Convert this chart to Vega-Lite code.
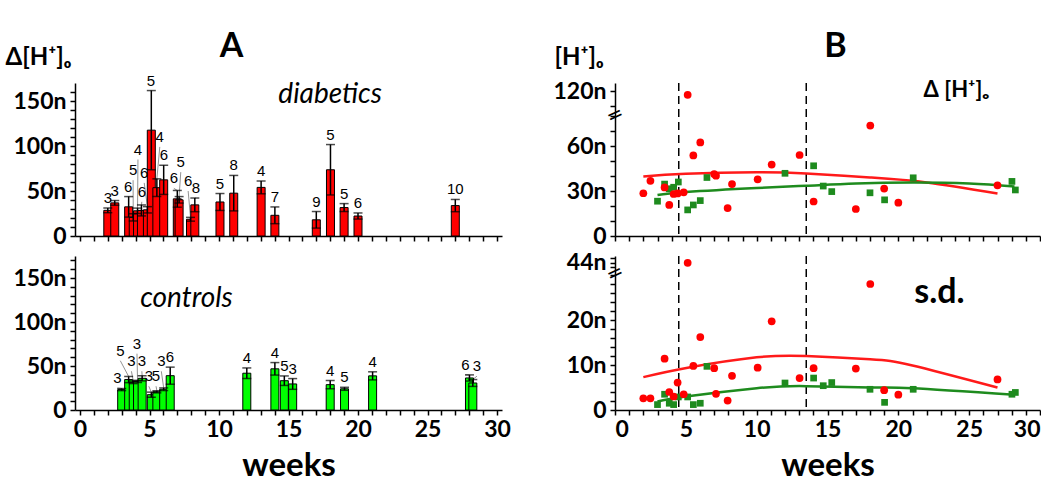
{
 "$schema": "https://vega.github.io/schema/vega-lite/v6.json",
 "background": "white",
 "padding": {"left": 5, "top": 30, "right": 0, "bottom": 0},
 "config": {
  "view": {"stroke": null},
  "font": "Lato",
  "axis": {"grid": false, "domainColor": "black", "domainWidth": 1.5, "tickColor": "black", "tickWidth": 1.5, "tickSize": 5, "labelOverlap": false, "labelFont": "Lato", "labelFontWeight": "bold", "labelFontSize": 23, "labelColor": "black", "titleColor": "black", "titleFont": "Lato"},
  "title": {"font": "Lato", "fontSize": 34, "fontWeight": "bold", "color": "black"}
 },
 "datasets": {
  "weeks": [
   {"group":"diabetics","week":2.0,"mean":28.5,"sd":2.6,"lo":25.9,"hi":31.1,"n":3,"lx":2.0,"ly":31.1},
   {"group":"diabetics","week":2.5,"mean":36.8,"sd":2.6,"lo":34.2,"hi":39.4,"n":3,"lx":2.5,"ly":39.4},
   {"group":"diabetics","week":3.5,"mean":32.4,"sd":11.4,"lo":21.0,"hi":43.8,"n":6,"lx":3.47,"ly":43.8},
   {"group":"diabetics","week":3.83,"mean":20.7,"sd":4.0,"lo":16.7,"hi":24.7,"n":5,"lx":3.82,"ly":62},
   {"group":"diabetics","week":4.14,"mean":28.0,"sd":3.0,"lo":25.0,"hi":31.0,"n":4,"lx":4.17,"ly":85},
   {"group":"diabetics","week":4.42,"mean":28.4,"sd":6.1,"lo":22.3,"hi":34.5,"n":6,"lx":4.45,"ly":38},
   {"group":"diabetics","week":4.85,"mean":29.1,"sd":3.5,"lo":25.6,"hi":32.6,"n":6,"lx":4.62,"ly":59},
   {"group":"diabetics","week":5.13,"mean":117.6,"sd":44,"lo":73.6,"hi":161.6,"n":5,"lx":5.1,"ly":161.6},
   {"group":"diabetics","week":5.53,"mean":53.7,"sd":9.8,"lo":43.9,"hi":63.5,"n":4,"lx":5.74,"ly":99},
   {"group":"diabetics","week":6.02,"mean":62.4,"sd":16.2,"lo":46.2,"hi":78.6,"n":6,"lx":6.04,"ly":78.6},
   {"group":"diabetics","week":7.0,"mean":41.3,"sd":9.3,"lo":32.0,"hi":50.6,"n":6,"lx":6.75,"ly":53},
   {"group":"diabetics","week":7.13,"mean":40.2,"sd":3.6,"lo":36.6,"hi":43.8,"n":5,"lx":7.25,"ly":71},
   {"group":"diabetics","week":7.95,"mean":18.6,"sd":2.1,"lo":16.5,"hi":20.7,"n":6,"lx":7.78,"ly":50},
   {"group":"diabetics","week":8.26,"mean":34.6,"sd":7.6,"lo":27.0,"hi":42.2,"n":8,"lx":8.34,"ly":42.2},
   {"group":"diabetics","week":10.07,"mean":37.8,"sd":9.4,"lo":28.4,"hi":47.2,"n":5,"lx":10.07,"ly":47.2},
   {"group":"diabetics","week":11.06,"mean":47.6,"sd":19.7,"lo":27.9,"hi":67.3,"n":8,"lx":11.06,"ly":67.3},
   {"group":"diabetics","week":13.03,"mean":54.0,"sd":7.1,"lo":46.9,"hi":61.1,"n":4,"lx":13.03,"ly":61.1},
   {"group":"diabetics","week":14.02,"mean":23.0,"sd":9.3,"lo":13.7,"hi":32.3,"n":7,"lx":14.02,"ly":32.3},
   {"group":"diabetics","week":17.0,"mean":18.0,"sd":9.2,"lo":8.8,"hi":27.2,"n":9,"lx":17.0,"ly":27.2},
   {"group":"diabetics","week":18.02,"mean":73.6,"sd":28,"lo":45.6,"hi":101.6,"n":5,"lx":18.02,"ly":101.6},
   {"group":"diabetics","week":19.0,"mean":31.6,"sd":4.4,"lo":27.2,"hi":36.0,"n":5,"lx":19.0,"ly":36.0},
   {"group":"diabetics","week":20.0,"mean":22.2,"sd":3.4,"lo":18.8,"hi":25.6,"n":6,"lx":20.0,"ly":25.6},
   {"group":"diabetics","week":27.0,"mean":33.8,"sd":6.8,"lo":27.0,"hi":40.6,"n":10,"lx":27.0,"ly":40.6},
   {"group":"controls","week":3.0,"mean":23.2,"sd":1.2,"lo":22.0,"hi":24.4,"n":3,"lx":2.7,"ly":25},
   {"group":"controls","week":3.5,"mean":34.6,"sd":3.5,"lo":31.1,"hi":38.1,"n":5,"lx":2.9,"ly":56},
   {"group":"controls","week":3.83,"mean":31.5,"sd":1.5,"lo":30.0,"hi":33.0,"n":3,"lx":3.7,"ly":44},
   {"group":"controls","week":4.14,"mean":32.5,"sd":1.2,"lo":31.3,"hi":33.7,"n":3,"lx":4.1,"ly":64},
   {"group":"controls","week":4.47,"mean":36.0,"sd":2.9,"lo":33.1,"hi":38.9,"n":3,"lx":4.45,"ly":44},
   {"group":"controls","week":5.13,"mean":17.4,"sd":2.9,"lo":14.5,"hi":20.3,"n":3,"lx":4.95,"ly":27},
   {"group":"controls","week":5.53,"mean":20.7,"sd":1.2,"lo":19.5,"hi":21.9,"n":5,"lx":5.47,"ly":27},
   {"group":"controls","week":6.02,"mean":23.6,"sd":1.5,"lo":22.1,"hi":25.1,"n":3,"lx":5.85,"ly":44},
   {"group":"controls","week":6.49,"mean":39.0,"sd":9.7,"lo":29.3,"hi":48.7,"n":6,"lx":6.47,"ly":48.7},
   {"group":"controls","week":12.0,"mean":41.8,"sd":6.0,"lo":35.8,"hi":47.8,"n":4,"lx":12.0,"ly":47.8},
   {"group":"controls","week":14.02,"mean":46.8,"sd":7.1,"lo":39.7,"hi":53.9,"n":4,"lx":14.02,"ly":53.9},
   {"group":"controls","week":14.7,"mean":33.3,"sd":5.4,"lo":27.9,"hi":38.7,"n":5,"lx":14.7,"ly":38.7},
   {"group":"controls","week":15.3,"mean":29.6,"sd":6.1,"lo":23.5,"hi":35.7,"n":3,"lx":15.3,"ly":35.7},
   {"group":"controls","week":18.0,"mean":28.8,"sd":4.6,"lo":24.2,"hi":33.4,"n":4,"lx":18.0,"ly":33.4},
   {"group":"controls","week":19.03,"mean":24.1,"sd":1.7,"lo":22.4,"hi":25.8,"n":5,"lx":19.03,"ly":25.8},
   {"group":"controls","week":21.05,"mean":38.8,"sd":4.6,"lo":34.2,"hi":43.4,"n":4,"lx":21.05,"ly":43.4},
   {"group":"controls","week":28.02,"mean":36.4,"sd":3.5,"lo":32.9,"hi":39.9,"n":6,"lx":27.72,"ly":39.9},
   {"group":"controls","week":28.26,"mean":30.7,"sd":3.9,"lo":26.8,"hi":34.6,"n":3,"lx":28.56,"ly":38.5}
  ],
  "fit": [
   {"stat":"mean","group":"diabetics","week":2,"value":39.7},
   {"stat":"mean","group":"diabetics","week":5,"value":41.5},
   {"stat":"mean","group":"diabetics","week":10,"value":42.5},
   {"stat":"mean","group":"diabetics","week":13.5,"value":41.7},
   {"stat":"mean","group":"diabetics","week":18,"value":39},
   {"stat":"mean","group":"diabetics","week":22,"value":35.7},
   {"stat":"mean","group":"diabetics","week":27,"value":28.4},
   {"stat":"mean","group":"controls","week":3,"value":27.3},
   {"stat":"mean","group":"controls","week":5,"value":29.3},
   {"stat":"mean","group":"controls","week":10,"value":32},
   {"stat":"mean","group":"controls","week":13.5,"value":33.5},
   {"stat":"mean","group":"controls","week":17,"value":35},
   {"stat":"mean","group":"controls","week":21,"value":35.7},
   {"stat":"mean","group":"controls","week":25,"value":35},
   {"stat":"mean","group":"controls","week":28.2,"value":33},
   {"stat":"sd","group":"diabetics","week":2,"value":7.3},
   {"stat":"sd","group":"diabetics","week":5.13,"value":9.4},
   {"stat":"sd","group":"diabetics","week":10,"value":11.7},
   {"stat":"sd","group":"diabetics","week":13.5,"value":12.0},
   {"stat":"sd","group":"diabetics","week":18,"value":11.3},
   {"stat":"sd","group":"diabetics","week":21,"value":9.9},
   {"stat":"sd","group":"diabetics","week":27,"value":5.0},
   {"stat":"sd","group":"controls","week":3,"value":1.9},
   {"stat":"sd","group":"controls","week":5,"value":3.0},
   {"stat":"sd","group":"controls","week":10,"value":4.85},
   {"stat":"sd","group":"controls","week":13.5,"value":5.3},
   {"stat":"sd","group":"controls","week":18,"value":5.0},
   {"stat":"sd","group":"controls","week":21,"value":4.85},
   {"stat":"sd","group":"controls","week":28.2,"value":3.4}
  ],
  "cuts": [{"week":4.5},{"week":13.5}]
 },
 "columns": 2,
 "spacing": {"row": 20, "column": 113},
 "bounds": "flush",
 "concat": [
  {
   "width": 427, "height": 153,
   "title": {"text": "A", "anchor": "middle", "dx": -57, "dy": 27, "offset": 8},
   "layer": [
    {"data": {"name": "weeks"}, "transform": [{"filter": "datum.group === 'diabetics' && (datum.ly > datum.hi + 3 || datum.lx !== datum.week)"}],
     "mark": {"type": "rule", "color": "#777777", "strokeWidth": 0.8},
     "encoding": {
      "x": {"field": "lx", "type": "quantitative", "scale": {"domain": [0, 30], "nice": false},
            "axis": {"values": [0,1,2,3,4,5,6,7,8,9,10,11,12,13,14,15,16,17,18,19,20,21,22,23,24,25,26,27,28,29,30], "labels": false, "title": null}},
      "x2": {"field": "week"},
      "y": {"field": "ly", "type": "quantitative", "scale": {"domain": [0, 170], "nice": false},
            "axis": {"values": [0,10,20,30,40,50,60,70,80,90,100,110,120,130,140,150,160], "labelExpr": "datum.value === 0 ? '0' : (datum.value % 50 === 0 ? datum.value + 'n' : '')", "labelPadding": 4,
                     "title": "Δ[H⁺]ₒ", "titleAngle": 0, "titleAlign": "left", "titleBaseline": "alphabetic", "titleX": -70, "titleY": -19, "titleFontSize": 24, "titleFontWeight": "bold"}},
      "y2": {"field": "hi"}
     }},
    {"data": {"name": "weeks"}, "transform": [{"filter": "datum.group === 'diabetics'"}],
     "mark": {"type": "bar", "orient": "vertical", "size": 8, "color": "#FF0000", "stroke": "black", "strokeWidth": 1},
     "encoding": {
      "x": {"field": "week", "type": "quantitative", "scale": {"domain": [0, 30], "nice": false},
            "axis": {"values": [0,1,2,3,4,5,6,7,8,9,10,11,12,13,14,15,16,17,18,19,20,21,22,23,24,25,26,27,28,29,30], "labels": false, "title": null}},
      "y": {"field": "mean", "type": "quantitative", "scale": {"domain": [0, 170], "nice": false},
            "axis": {"values": [0,10,20,30,40,50,60,70,80,90,100,110,120,130,140,150,160], "labelExpr": "datum.value === 0 ? '0' : (datum.value % 50 === 0 ? datum.value + 'n' : '')", "labelPadding": 4,
                     "title": "Δ[H⁺]ₒ", "titleAngle": 0, "titleAlign": "left", "titleBaseline": "alphabetic", "titleX": -70, "titleY": -19, "titleFontSize": 24, "titleFontWeight": "bold"}}
     }},
    {"data": {"name": "weeks"}, "transform": [{"filter": "datum.group === 'diabetics'"}],
     "mark": {"type": "errorbar", "color": "black", "thickness": 1.5, "ticks": {"size": 9, "thickness": 1.5}},
     "encoding": {
      "x": {"field": "week", "type": "quantitative", "scale": {"domain": [0, 30], "nice": false},
            "axis": {"values": [0,1,2,3,4,5,6,7,8,9,10,11,12,13,14,15,16,17,18,19,20,21,22,23,24,25,26,27,28,29,30], "labels": false, "title": null}},
      "y": {"field": "lo", "type": "quantitative", "scale": {"domain": [0, 170], "nice": false},
            "axis": {"values": [0,10,20,30,40,50,60,70,80,90,100,110,120,130,140,150,160], "labelExpr": "datum.value === 0 ? '0' : (datum.value % 50 === 0 ? datum.value + 'n' : '')", "labelPadding": 4,
                     "title": "Δ[H⁺]ₒ", "titleAngle": 0, "titleAlign": "left", "titleBaseline": "alphabetic", "titleX": -70, "titleY": -19, "titleFontSize": 24, "titleFontWeight": "bold"}},
      "y2": {"field": "hi"}
     }},
    {"data": {"name": "weeks"}, "transform": [{"filter": "datum.group === 'diabetics'"}],
     "mark": {"type": "text", "font": "Liberation Sans", "fontSize": 15, "baseline": "bottom", "dy": -2, "color": "black"},
     "encoding": {
      "x": {"field": "lx", "type": "quantitative", "scale": {"domain": [0, 30], "nice": false},
            "axis": {"values": [0,1,2,3,4,5,6,7,8,9,10,11,12,13,14,15,16,17,18,19,20,21,22,23,24,25,26,27,28,29,30], "labels": false, "title": null}},
      "y": {"field": "ly", "type": "quantitative", "scale": {"domain": [0, 170], "nice": false},
            "axis": {"values": [0,10,20,30,40,50,60,70,80,90,100,110,120,130,140,150,160], "labelExpr": "datum.value === 0 ? '0' : (datum.value % 50 === 0 ? datum.value + 'n' : '')", "labelPadding": 4,
                     "title": "Δ[H⁺]ₒ", "titleAngle": 0, "titleAlign": "left", "titleBaseline": "alphabetic", "titleX": -70, "titleY": -19, "titleFontSize": 24, "titleFontWeight": "bold"}},
      "text": {"field": "n", "type": "quantitative"}
     }},
    {"data": {"values": [{"label": "diabetics", "week": 18, "value": 157}]},
     "mark": {"type": "text", "font": "Lato", "fontStyle": "italic", "fontSize": 28, "baseline": "middle", "color": "black"},
     "encoding": {
      "x": {"field": "week", "type": "quantitative", "scale": {"domain": [0, 30], "nice": false},
            "axis": {"values": [0,1,2,3,4,5,6,7,8,9,10,11,12,13,14,15,16,17,18,19,20,21,22,23,24,25,26,27,28,29,30], "labels": false, "title": null}},
      "y": {"field": "value", "type": "quantitative", "scale": {"domain": [0, 170], "nice": false},
            "axis": {"values": [0,10,20,30,40,50,60,70,80,90,100,110,120,130,140,150,160], "labelExpr": "datum.value === 0 ? '0' : (datum.value % 50 === 0 ? datum.value + 'n' : '')", "labelPadding": 4,
                     "title": "Δ[H⁺]ₒ", "titleAngle": 0, "titleAlign": "left", "titleBaseline": "alphabetic", "titleX": -70, "titleY": -19, "titleFontSize": 24, "titleFontWeight": "bold"}},
      "text": {"field": "label"}
     }}
   ]
  },
  {
   "width": 425, "height": 153,
   "title": {"text": "B", "anchor": "middle", "dx": 8, "dy": 27, "offset": 8},
   "layer": [
    {"data": {"name": "cuts"},
     "mark": {"type": "rule", "strokeDash": [8, 5], "color": "black", "strokeWidth": 1.5},
     "encoding": {
      "x": {"field": "week", "type": "quantitative", "scale": {"domain": [0, 30], "nice": false},
            "axis": {"values": [0,1,2,3,4,5,6,7,8,9,10,11,12,13,14,15,16,17,18,19,20,21,22,23,24,25,26,27,28,29,30], "labels": false, "title": null}}
     }},
    {"data": {"name": "fit"}, "transform": [{"filter": "datum.stat === 'mean'"}],
     "mark": {"type": "line", "interpolate": "natural", "strokeWidth": 2.5},
     "encoding": {
      "x": {"field": "week", "type": "quantitative", "scale": {"domain": [0, 30], "nice": false},
            "axis": {"values": [0,1,2,3,4,5,6,7,8,9,10,11,12,13,14,15,16,17,18,19,20,21,22,23,24,25,26,27,28,29,30], "labels": false, "title": null}},
      "y": {"field": "value", "type": "quantitative", "scale": {"domain": [0, 80, 104, 126], "range": [153, 33, 31, 0], "nice": false, "zero": false},
            "axis": {"values": [0,10,20,30,40,50,60,70,80,110,120], "labelExpr": "indexof([0,30,60,120], datum.value) >= 0 ? (datum.value === 0 ? '0' : datum.value + 'n') : ''", "labelPadding": 4,
                     "title": "[H⁺]ₒ", "titleAngle": 0, "titleAlign": "left", "titleBaseline": "alphabetic", "titleX": -61, "titleY": -19, "titleFontSize": 24, "titleFontWeight": "bold"}},
      "color": {"field": "group", "type": "nominal", "scale": {"domain": ["diabetics", "controls"], "range": ["#FF1A1A", "#1E8B1E"]}, "legend": null}
     }},
    {"data": {"name": "weeks"}, "transform": [{"filter": "datum.group === 'controls'"}],
     "mark": {"type": "square", "size": 45, "color": "#1E8B1E", "opacity": 1},
     "encoding": {
      "x": {"field": "week", "type": "quantitative", "scale": {"domain": [0, 30], "nice": false},
            "axis": {"values": [0,1,2,3,4,5,6,7,8,9,10,11,12,13,14,15,16,17,18,19,20,21,22,23,24,25,26,27,28,29,30], "labels": false, "title": null}},
      "y": {"field": "mean", "type": "quantitative", "scale": {"domain": [0, 80, 104, 126], "range": [153, 33, 31, 0], "nice": false, "zero": false},
            "axis": {"values": [0,10,20,30,40,50,60,70,80,110,120], "labelExpr": "indexof([0,30,60,120], datum.value) >= 0 ? (datum.value === 0 ? '0' : datum.value + 'n') : ''", "labelPadding": 4,
                     "title": "[H⁺]ₒ", "titleAngle": 0, "titleAlign": "left", "titleBaseline": "alphabetic", "titleX": -61, "titleY": -19, "titleFontSize": 24, "titleFontWeight": "bold"}}
     }},
    {"data": {"name": "weeks"}, "transform": [{"filter": "datum.group === 'diabetics'"}],
     "mark": {"type": "circle", "size": 60, "color": "#FF0000", "opacity": 1},
     "encoding": {
      "x": {"field": "week", "type": "quantitative", "scale": {"domain": [0, 30], "nice": false},
            "axis": {"values": [0,1,2,3,4,5,6,7,8,9,10,11,12,13,14,15,16,17,18,19,20,21,22,23,24,25,26,27,28,29,30], "labels": false, "title": null}},
      "y": {"field": "mean", "type": "quantitative", "scale": {"domain": [0, 80, 104, 126], "range": [153, 33, 31, 0], "nice": false, "zero": false},
            "axis": {"values": [0,10,20,30,40,50,60,70,80,110,120], "labelExpr": "indexof([0,30,60,120], datum.value) >= 0 ? (datum.value === 0 ? '0' : datum.value + 'n') : ''", "labelPadding": 4,
                     "title": "[H⁺]ₒ", "titleAngle": 0, "titleAlign": "left", "titleBaseline": "alphabetic", "titleX": -61, "titleY": -19, "titleFontSize": 24, "titleFontWeight": "bold"}}
     }},
    {"data": {"values": [{"label": "Δ [H⁺]ₒ", "week": 24.1, "value": 121}]},
     "mark": {"type": "text", "font": "Lato", "fontWeight": "bold", "fontSize": 22, "baseline": "middle", "color": "black"},
     "encoding": {
      "x": {"field": "week", "type": "quantitative", "scale": {"domain": [0, 30], "nice": false},
            "axis": {"values": [0,1,2,3,4,5,6,7,8,9,10,11,12,13,14,15,16,17,18,19,20,21,22,23,24,25,26,27,28,29,30], "labels": false, "title": null}},
      "y": {"field": "value", "type": "quantitative", "scale": {"domain": [0, 80, 104, 126], "range": [153, 33, 31, 0], "nice": false, "zero": false},
            "axis": {"values": [0,10,20,30,40,50,60,70,80,110,120], "labelExpr": "indexof([0,30,60,120], datum.value) >= 0 ? (datum.value === 0 ? '0' : datum.value + 'n') : ''", "labelPadding": 4,
                     "title": "[H⁺]ₒ", "titleAngle": 0, "titleAlign": "left", "titleBaseline": "alphabetic", "titleX": -61, "titleY": -19, "titleFontSize": 24, "titleFontWeight": "bold"}},
      "text": {"field": "label"}
     }},
    {"data": {"values": [{"label": "=", "week": 0, "value": 90}]},
     "mark": {"type": "text", "font": "DejaVu Sans", "fontSize": 20, "angle": -25, "baseline": "middle", "color": "black"},
     "encoding": {
      "x": {"field": "week", "type": "quantitative", "scale": {"domain": [0, 30], "nice": false},
            "axis": {"values": [0,1,2,3,4,5,6,7,8,9,10,11,12,13,14,15,16,17,18,19,20,21,22,23,24,25,26,27,28,29,30], "labels": false, "title": null}},
      "y": {"field": "value", "type": "quantitative", "scale": {"domain": [0, 80, 104, 126], "range": [153, 33, 31, 0], "nice": false, "zero": false},
            "axis": {"values": [0,10,20,30,40,50,60,70,80,110,120], "labelExpr": "indexof([0,30,60,120], datum.value) >= 0 ? (datum.value === 0 ? '0' : datum.value + 'n') : ''", "labelPadding": 4,
                     "title": "[H⁺]ₒ", "titleAngle": 0, "titleAlign": "left", "titleBaseline": "alphabetic", "titleX": -61, "titleY": -19, "titleFontSize": 24, "titleFontWeight": "bold"}},
      "text": {"field": "label"}
     }}
   ]
  },
  {
   "width": 427, "height": 154,
   "layer": [
    {"data": {"name": "weeks"}, "transform": [{"filter": "datum.group === 'controls' && (datum.ly > datum.hi + 3 || datum.lx !== datum.week)"}],
     "mark": {"type": "rule", "color": "#777777", "strokeWidth": 0.8},
     "encoding": {
      "x": {"field": "lx", "type": "quantitative", "scale": {"domain": [0, 30], "nice": false},
            "axis": {"values": [0,1,2,3,4,5,6,7,8,9,10,11,12,13,14,15,16,17,18,19,20,21,22,23,24,25,26,27,28,29,30], "labelExpr": "datum.value % 5 === 0 ? datum.label : ''", "labelPadding": 3, "title": "weeks", "titleFontSize": 33, "titleFontWeight": "bold", "titlePadding": 8}},
      "x2": {"field": "week"},
      "y": {"field": "ly", "type": "quantitative", "scale": {"domain": [0, 175], "nice": false},
            "axis": {"values": [0,10,20,30,40,50,60,70,80,90,100,110,120,130,140,150,160,170], "labelExpr": "datum.value === 0 ? '0' : (datum.value % 50 === 0 ? datum.value + 'n' : '')", "labelPadding": 4, "title": null}},
      "y2": {"field": "hi"}
     }},
    {"data": {"name": "weeks"}, "transform": [{"filter": "datum.group === 'controls'"}],
     "mark": {"type": "bar", "orient": "vertical", "size": 8, "color": "#00FF00", "stroke": "black", "strokeWidth": 1},
     "encoding": {
      "x": {"field": "week", "type": "quantitative", "scale": {"domain": [0, 30], "nice": false},
            "axis": {"values": [0,1,2,3,4,5,6,7,8,9,10,11,12,13,14,15,16,17,18,19,20,21,22,23,24,25,26,27,28,29,30], "labelExpr": "datum.value % 5 === 0 ? datum.label : ''", "labelPadding": 3, "title": "weeks", "titleFontSize": 33, "titleFontWeight": "bold", "titlePadding": 8}},
      "y": {"field": "mean", "type": "quantitative", "scale": {"domain": [0, 175], "nice": false},
            "axis": {"values": [0,10,20,30,40,50,60,70,80,90,100,110,120,130,140,150,160,170], "labelExpr": "datum.value === 0 ? '0' : (datum.value % 50 === 0 ? datum.value + 'n' : '')", "labelPadding": 4, "title": null}}
     }},
    {"data": {"name": "weeks"}, "transform": [{"filter": "datum.group === 'controls'"}],
     "mark": {"type": "errorbar", "color": "black", "thickness": 1.5, "ticks": {"size": 9, "thickness": 1.5}},
     "encoding": {
      "x": {"field": "week", "type": "quantitative", "scale": {"domain": [0, 30], "nice": false},
            "axis": {"values": [0,1,2,3,4,5,6,7,8,9,10,11,12,13,14,15,16,17,18,19,20,21,22,23,24,25,26,27,28,29,30], "labelExpr": "datum.value % 5 === 0 ? datum.label : ''", "labelPadding": 3, "title": "weeks", "titleFontSize": 33, "titleFontWeight": "bold", "titlePadding": 8}},
      "y": {"field": "lo", "type": "quantitative", "scale": {"domain": [0, 175], "nice": false},
            "axis": {"values": [0,10,20,30,40,50,60,70,80,90,100,110,120,130,140,150,160,170], "labelExpr": "datum.value === 0 ? '0' : (datum.value % 50 === 0 ? datum.value + 'n' : '')", "labelPadding": 4, "title": null}},
      "y2": {"field": "hi"}
     }},
    {"data": {"name": "weeks"}, "transform": [{"filter": "datum.group === 'controls'"}],
     "mark": {"type": "text", "font": "Liberation Sans", "fontSize": 15, "baseline": "bottom", "dy": -2, "color": "black"},
     "encoding": {
      "x": {"field": "lx", "type": "quantitative", "scale": {"domain": [0, 30], "nice": false},
            "axis": {"values": [0,1,2,3,4,5,6,7,8,9,10,11,12,13,14,15,16,17,18,19,20,21,22,23,24,25,26,27,28,29,30], "labelExpr": "datum.value % 5 === 0 ? datum.label : ''", "labelPadding": 3, "title": "weeks", "titleFontSize": 33, "titleFontWeight": "bold", "titlePadding": 8}},
      "y": {"field": "ly", "type": "quantitative", "scale": {"domain": [0, 175], "nice": false},
            "axis": {"values": [0,10,20,30,40,50,60,70,80,90,100,110,120,130,140,150,160,170], "labelExpr": "datum.value === 0 ? '0' : (datum.value % 50 === 0 ? datum.value + 'n' : '')", "labelPadding": 4, "title": null}},
      "text": {"field": "n", "type": "quantitative"}
     }},
    {"data": {"values": [{"label": "controls", "week": 7.66, "value": 126}]},
     "mark": {"type": "text", "font": "Lato", "fontStyle": "italic", "fontSize": 28, "baseline": "middle", "color": "black"},
     "encoding": {
      "x": {"field": "week", "type": "quantitative", "scale": {"domain": [0, 30], "nice": false},
            "axis": {"values": [0,1,2,3,4,5,6,7,8,9,10,11,12,13,14,15,16,17,18,19,20,21,22,23,24,25,26,27,28,29,30], "labelExpr": "datum.value % 5 === 0 ? datum.label : ''", "labelPadding": 3, "title": "weeks", "titleFontSize": 33, "titleFontWeight": "bold", "titlePadding": 8}},
      "y": {"field": "value", "type": "quantitative", "scale": {"domain": [0, 175], "nice": false},
            "axis": {"values": [0,10,20,30,40,50,60,70,80,90,100,110,120,130,140,150,160,170], "labelExpr": "datum.value === 0 ? '0' : (datum.value % 50 === 0 ? datum.value + 'n' : '')", "labelPadding": 4, "title": null}},
      "text": {"field": "label"}
     }}
   ]
  },
  {
   "width": 425, "height": 154,
   "layer": [
    {"data": {"name": "cuts"},
     "mark": {"type": "rule", "strokeDash": [8, 5], "color": "black", "strokeWidth": 1.5},
     "encoding": {
      "x": {"field": "week", "type": "quantitative", "scale": {"domain": [0, 30], "nice": false},
            "axis": {"values": [0,1,2,3,4,5,6,7,8,9,10,11,12,13,14,15,16,17,18,19,20,21,22,23,24,25,26,27,28,29,30], "labelExpr": "datum.value % 5 === 0 ? datum.label : ''", "labelPadding": 3, "title": "weeks", "titleFontSize": 33, "titleFontWeight": "bold", "titlePadding": 8}}
     }},
    {"data": {"name": "fit"}, "transform": [{"filter": "datum.stat === 'sd'"}],
     "mark": {"type": "line", "interpolate": "natural", "strokeWidth": 2.5},
     "encoding": {
      "x": {"field": "week", "type": "quantitative", "scale": {"domain": [0, 30], "nice": false},
            "axis": {"values": [0,1,2,3,4,5,6,7,8,9,10,11,12,13,14,15,16,17,18,19,20,21,22,23,24,25,26,27,28,29,30], "labelExpr": "datum.value % 5 === 0 ? datum.label : ''", "labelPadding": 3, "title": "weeks", "titleFontSize": 33, "titleFontWeight": "bold", "titlePadding": 8}},
      "y": {"field": "value", "type": "quantitative", "scale": {"domain": [0, 30, 40, 47], "range": [154, 19, 16, 0], "nice": false, "zero": false},
            "axis": {"values": [0,2,4,6,8,10,12,14,16,18,20,22,24,26,28,30,42,44,46], "labelExpr": "indexof([0,10,20,44], datum.value) >= 0 ? (datum.value === 0 ? '0' : datum.value + 'n') : ''", "labelPadding": 4, "title": null}},
      "color": {"field": "group", "type": "nominal", "scale": {"domain": ["diabetics", "controls"], "range": ["#FF1A1A", "#1E8B1E"]}, "legend": null}
     }},
    {"data": {"name": "weeks"}, "transform": [{"filter": "datum.group === 'controls'"}],
     "mark": {"type": "square", "size": 45, "color": "#1E8B1E", "opacity": 1},
     "encoding": {
      "x": {"field": "week", "type": "quantitative", "scale": {"domain": [0, 30], "nice": false},
            "axis": {"values": [0,1,2,3,4,5,6,7,8,9,10,11,12,13,14,15,16,17,18,19,20,21,22,23,24,25,26,27,28,29,30], "labelExpr": "datum.value % 5 === 0 ? datum.label : ''", "labelPadding": 3, "title": "weeks", "titleFontSize": 33, "titleFontWeight": "bold", "titlePadding": 8}},
      "y": {"field": "sd", "type": "quantitative", "scale": {"domain": [0, 30, 40, 47], "range": [154, 19, 16, 0], "nice": false, "zero": false},
            "axis": {"values": [0,2,4,6,8,10,12,14,16,18,20,22,24,26,28,30,42,44,46], "labelExpr": "indexof([0,10,20,44], datum.value) >= 0 ? (datum.value === 0 ? '0' : datum.value + 'n') : ''", "labelPadding": 4, "title": null}}
     }},
    {"data": {"name": "weeks"}, "transform": [{"filter": "datum.group === 'diabetics'"}],
     "mark": {"type": "circle", "size": 60, "color": "#FF0000", "opacity": 1},
     "encoding": {
      "x": {"field": "week", "type": "quantitative", "scale": {"domain": [0, 30], "nice": false},
            "axis": {"values": [0,1,2,3,4,5,6,7,8,9,10,11,12,13,14,15,16,17,18,19,20,21,22,23,24,25,26,27,28,29,30], "labelExpr": "datum.value % 5 === 0 ? datum.label : ''", "labelPadding": 3, "title": "weeks", "titleFontSize": 33, "titleFontWeight": "bold", "titlePadding": 8}},
      "y": {"field": "sd", "type": "quantitative", "scale": {"domain": [0, 30, 40, 47], "range": [154, 19, 16, 0], "nice": false, "zero": false},
            "axis": {"values": [0,2,4,6,8,10,12,14,16,18,20,22,24,26,28,30,42,44,46], "labelExpr": "indexof([0,10,20,44], datum.value) >= 0 ? (datum.value === 0 ? '0' : datum.value + 'n') : ''", "labelPadding": 4, "title": null}}
     }},
    {"data": {"values": [{"label": "s.d.", "week": 22.9, "value": 26}]},
     "mark": {"type": "text", "font": "Lato", "fontWeight": "bold", "fontSize": 34, "baseline": "middle", "color": "black"},
     "encoding": {
      "x": {"field": "week", "type": "quantitative", "scale": {"domain": [0, 30], "nice": false},
            "axis": {"values": [0,1,2,3,4,5,6,7,8,9,10,11,12,13,14,15,16,17,18,19,20,21,22,23,24,25,26,27,28,29,30], "labelExpr": "datum.value % 5 === 0 ? datum.label : ''", "labelPadding": 3, "title": "weeks", "titleFontSize": 33, "titleFontWeight": "bold", "titlePadding": 8}},
      "y": {"field": "value", "type": "quantitative", "scale": {"domain": [0, 30, 40, 47], "range": [154, 19, 16, 0], "nice": false, "zero": false},
            "axis": {"values": [0,2,4,6,8,10,12,14,16,18,20,22,24,26,28,30,42,44,46], "labelExpr": "indexof([0,10,20,44], datum.value) >= 0 ? (datum.value === 0 ? '0' : datum.value + 'n') : ''", "labelPadding": 4, "title": null}},
      "text": {"field": "label"}
     }},
    {"data": {"values": [{"label": "=", "week": 0, "value": 35}]},
     "mark": {"type": "text", "font": "DejaVu Sans", "fontSize": 20, "angle": -25, "baseline": "middle", "color": "black"},
     "encoding": {
      "x": {"field": "week", "type": "quantitative", "scale": {"domain": [0, 30], "nice": false},
            "axis": {"values": [0,1,2,3,4,5,6,7,8,9,10,11,12,13,14,15,16,17,18,19,20,21,22,23,24,25,26,27,28,29,30], "labelExpr": "datum.value % 5 === 0 ? datum.label : ''", "labelPadding": 3, "title": "weeks", "titleFontSize": 33, "titleFontWeight": "bold", "titlePadding": 8}},
      "y": {"field": "value", "type": "quantitative", "scale": {"domain": [0, 30, 40, 47], "range": [154, 19, 16, 0], "nice": false, "zero": false},
            "axis": {"values": [0,2,4,6,8,10,12,14,16,18,20,22,24,26,28,30,42,44,46], "labelExpr": "indexof([0,10,20,44], datum.value) >= 0 ? (datum.value === 0 ? '0' : datum.value + 'n') : ''", "labelPadding": 4, "title": null}},
      "text": {"field": "label"}
     }}
   ]
  }
 ]
}
